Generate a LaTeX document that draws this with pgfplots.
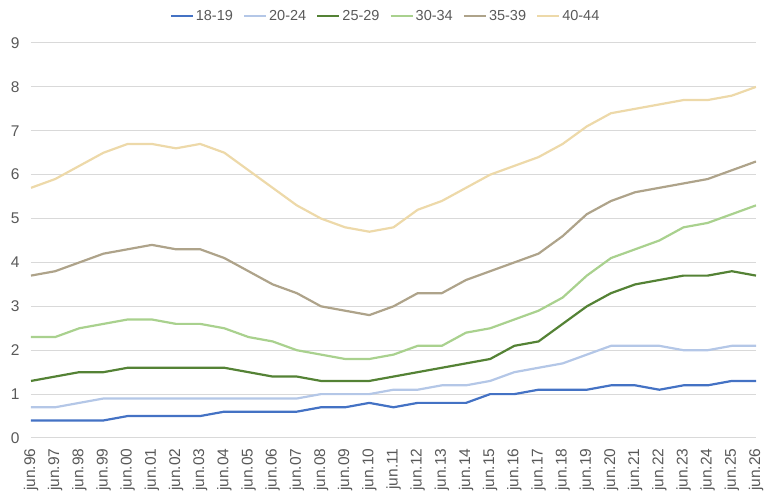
\documentclass[border=0pt]{standalone}
\usepackage{pgfplots}
\pgfplotsset{compat=1.18}
\usepackage{pgfplotstable}
\usepackage{fontspec}
\setmainfont{Liberation Sans}
\definecolor{cA}{HTML}{4472C4}
\definecolor{cB}{HTML}{B4C7E7}
\definecolor{cC}{HTML}{548235}
\definecolor{cD}{HTML}{A9D18E}
\definecolor{cE}{HTML}{AEA38A}
\definecolor{cF}{HTML}{EDD9A9}
\definecolor{gridgray}{HTML}{D9D9D9}
\definecolor{txtgray}{HTML}{595959}
\pgfplotstableread{
x a b c d e f
0 0.4 0.7 1.3 2.3 3.7 5.7
1 0.4 0.7 1.4 2.3 3.8 5.9
2 0.4 0.8 1.5 2.5 4.0 6.2
3 0.4 0.9 1.5 2.6 4.2 6.5
4 0.5 0.9 1.6 2.7 4.3 6.7
5 0.5 0.9 1.6 2.7 4.4 6.7
6 0.5 0.9 1.6 2.6 4.3 6.6
7 0.5 0.9 1.6 2.6 4.3 6.7
8 0.6 0.9 1.6 2.5 4.1 6.5
9 0.6 0.9 1.5 2.3 3.8 6.1
10 0.6 0.9 1.4 2.2 3.5 5.7
11 0.6 0.9 1.4 2.0 3.3 5.3
12 0.7 1.0 1.3 1.9 3.0 5.0
13 0.7 1.0 1.3 1.8 2.9 4.8
14 0.8 1.0 1.3 1.8 2.8 4.7
15 0.7 1.1 1.4 1.9 3.0 4.8
16 0.8 1.1 1.5 2.1 3.3 5.2
17 0.8 1.2 1.6 2.1 3.3 5.4
18 0.8 1.2 1.7 2.4 3.6 5.7
19 1.0 1.3 1.8 2.5 3.8 6.0
20 1.0 1.5 2.1 2.7 4.0 6.2
21 1.1 1.6 2.2 2.9 4.2 6.4
22 1.1 1.7 2.6 3.2 4.6 6.7
23 1.1 1.9 3.0 3.7 5.1 7.1
24 1.2 2.1 3.3 4.1 5.4 7.4
25 1.2 2.1 3.5 4.3 5.6 7.5
26 1.1 2.1 3.6 4.5 5.7 7.6
27 1.2 2.0 3.7 4.8 5.8 7.7
28 1.2 2.0 3.7 4.9 5.9 7.7
29 1.3 2.1 3.8 5.1 6.1 7.8
30 1.3 2.1 3.7 5.3 6.3 8.0
}\data
\begin{document}
\begin{tikzpicture}
\begin{axis}[
  at={(0pt,0pt)}, anchor=south west,
  scale only axis, width=725pt, height=395pt,
  xmin=0, xmax=30, ymin=0, ymax=9,
  xtick={0,...,30}, ytick={0,...,9},
  xticklabels={jun.96,jun.97,jun.98,jun.99,jun.00,jun.01,jun.02,jun.03,jun.04,jun.05,jun.06,jun.07,jun.08,jun.09,jun.10,jun.11,jun.12,jun.13,jun.14,jun.15,jun.16,jun.17,jun.18,jun.19,jun.20,jun.21,jun.22,jun.23,jun.24,jun.25,jun.26},
  axis line style={draw=none},
  major tick length=0pt,
  ymajorgrids, grid style={draw=gridgray, line width=1pt},
  /pgf/number format/assume math mode=true,
  tick label style={font=\fontsize{15.5}{18}\selectfont, text=txtgray},
  xticklabel style={rotate=90, anchor=east},
  xticklabel shift=7pt,
  yticklabel shift=8pt,
  legend columns=6,
  legend style={at={(0.489,1.068)}, anchor=center, draw=none, fill=none,
    font=\fontsize{14.5}{17}\selectfont, text=txtgray,
    /tikz/every even column/.append style={column sep=8pt}},
  legend image code/.code={\draw[line width=2.2pt] (0pt,0pt) -- (22pt,0pt);},
  every axis plot/.append style={line width=2.2pt, line join=round, mark=none},
]
\addplot[cA] table[x=x,y=a]{\data};
\addlegendentry{18-19}
\addplot[cB] table[x=x,y=b]{\data};
\addlegendentry{20-24}
\addplot[cC] table[x=x,y=c]{\data};
\addlegendentry{25-29}
\addplot[cD] table[x=x,y=d]{\data};
\addlegendentry{30-34}
\addplot[cE] table[x=x,y=e]{\data};
\addlegendentry{35-39}
\addplot[cF] table[x=x,y=f]{\data};
\addlegendentry{40-44}
\end{axis}
\pgfresetboundingbox
\path (-31pt,-64pt) rectangle (737pt,438pt);
\end{tikzpicture}
\end{document}
